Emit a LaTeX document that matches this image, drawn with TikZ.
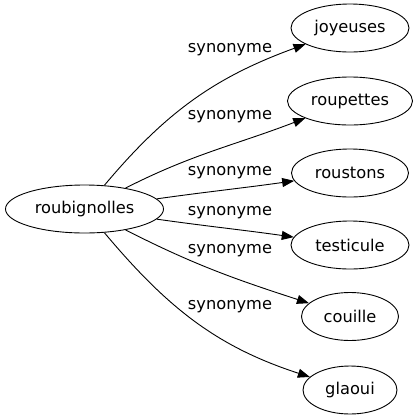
\documentclass[tikz,border=0pt]{standalone}
\usepackage{fontspec}
\setmainfont{DejaVu Sans}
\usepackage{tikz}
\usetikzlibrary{shapes.geometric}
\usetikzlibrary{arrows.meta}

\begin{document}
\begin{tikzpicture}[x=1bp,y=1bp,
    mot/.style={shape=ellipse,draw,line width=0.9bp,inner sep=0pt,minimum height=48bp,font=\fontsize{16.3}{19}\selectfont},
    syn/.style={line width=0.9bp,-{Triangle[length=12bp,width=9bp]}},
    etiq/.style={font=\fontsize{16.3}{19}\selectfont}]

  \useasboundingbox (0,0) rectangle (417,-419);

  % the central word
  \node[mot,minimum width=158bp] (roubignolles) at (84.5,-209) {roubignolles};

  % its synonyms, with the edge labels
  \foreach \t/\y/\w/\o/\i/\ly in {joyeuses/-28/118/50/200/-50,
                                   roupettes/-101/125/27/201/-117,
                                   roustons/-173/117/8/188/-173,
                                   testicule/-245/118/-8/172/-213,
                                   couille/-316.5/97/-27/162/-251,
                                   glaoui/-390/94/-50/162/-307}
  {
      \node[mot,minimum width=\w bp] (\t) at (350,\y) {\t};
      \draw[syn] (roubignolles) to[out=\o,in=\i] (\t);
      \node[etiq] (l-\t) at (230,\ly) {synonyme};
  }

\end{tikzpicture}
\end{document}
